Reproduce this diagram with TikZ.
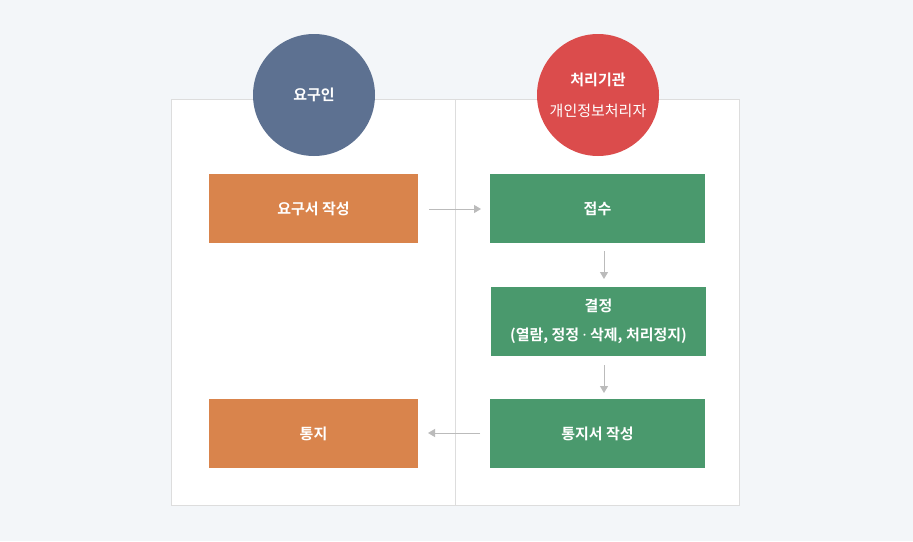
\documentclass[tikz,border=0pt]{standalone}
\usepackage{fontspec}
\setmainfont{Noto Sans CJK KR}[BoldFont={Noto Sans CJK KR Bold}]
\newfontfamily\latinfont{Noto Sans}
\usetikzlibrary{arrows.meta}
\definecolor{bgc}{HTML}{F3F6F9}
\definecolor{framec}{HTML}{DDDDDD}
\definecolor{bluec}{HTML}{5D7191}
\definecolor{redc}{HTML}{DB4C4C}
\definecolor{orangec}{HTML}{D9844C}
\definecolor{greenc}{HTML}{4A996D}
\definecolor{arrc}{HTML}{BBBBBB}
\begin{document}
\begin{tikzpicture}[x=1pt,y=-1pt,
  lbl/.style={text=white,font=\fontsize{15}{29}\selectfont\bfseries},
  obox/.style={fill=orangec,minimum width=209pt,minimum height=69pt,inner sep=0pt,lbl},
  gbox/.style={fill=greenc,minimum width=215pt,minimum height=69pt,inner sep=0pt,lbl,align=center},
  circ/.style={circle,minimum size=122pt,inner sep=0pt,lbl,align=center},
  arr/.style={draw=arrc,line width=1pt,-{Triangle[width=8pt,length=7pt]}}]
\fill[bgc] (0,0) rectangle (913,541);
\useasboundingbox (0,0) rectangle (913,541);
\draw[framec,fill=white,line width=1pt] (171.5,99.5) rectangle (739.5,505.5);
\draw[framec,line width=1pt] (455.5,99.5) -- (455.5,505.5);
\node[circ,fill=bluec] (req) at (314,95) {요구인};
\node[circ,fill=redc,font=\fontsize{15}{31}\selectfont\bfseries] (org) at (598,95) {처리기관\\{\mdseries 개인정보처리자}};
\node[obox] (write) at (313.5,208.5) {요구서 작성};
\node[gbox] (recv) at (597.5,208.5) {접수};
\node[gbox] (dec) at (598.5,321.5) {결정\\(열람, 정정 {\latinfont\bfseries ·} 삭제, 처리정지)};
\node[gbox] (nwrite) at (597.5,433.5) {통지서 작성};
\node[obox] (notify) at (313.5,433.5) {통지};
\coordinate (a1s) at (429,209); \coordinate (a1e) at (481,209);
\coordinate (a2s) at (604,251); \coordinate (a2e) at (604,279);
\coordinate (a3s) at (604,365); \coordinate (a3e) at (604,393);
\coordinate (a4s) at (480,433); \coordinate (a4e) at (428,433);
\draw[arr] (a1s) -- (a1e);
\draw[arr] (a2s) -- (a2e);
\draw[arr] (a3s) -- (a3e);
\draw[arr] (a4s) -- (a4e);
\end{tikzpicture}
\end{document}
